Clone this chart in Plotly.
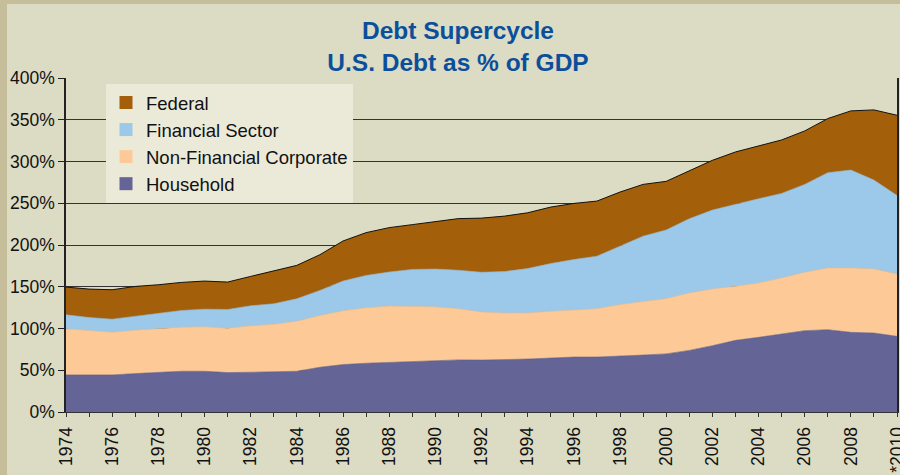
import plotly.graph_objects as go

years = list(range(1974, 2011))
household = [44.4, 44.4, 44.4, 46.0, 47.2, 48.8, 48.8, 47.2, 47.6, 48.0,
             48.8, 53.6, 56.8, 58.4, 59.6, 60.8, 61.6, 62.4, 62.2, 62.6,
             63.4, 64.6, 65.8, 65.8, 66.6, 68.2, 69.6, 73.8, 79.4, 85.8,
             89.4, 93.8, 97.4, 98.6, 95.4, 94.6, 90.6]
nonfin_corp = [55.2, 52.8, 51.2, 52.0, 52.8, 52.8, 53.2, 53.2, 55.6, 57.0,
               60.0, 62.0, 64.4, 66.4, 67.2, 66.0, 64.4, 61.4, 57.6, 56.0,
               55.2, 56.0, 56.4, 58.0, 62.0, 64.4, 66.2, 68.8, 68.0, 64.8,
               65.2, 66.8, 70.0, 74.0, 77.2, 76.8, 74.8]
financial = [16.8, 16.0, 15.6, 16.4, 17.6, 20.0, 21.2, 22.4, 24.0, 24.6,
             26.8, 30.0, 35.6, 38.8, 40.8, 44.0, 45.2, 46.0, 47.6, 49.6,
             53.2, 57.2, 60.4, 62.8, 70.0, 78.0, 82.2, 88.8, 94.4, 98.4,
             100.8, 101.2, 105.2, 114.0, 117.2, 106.4, 94.0]
federal = [33.2, 34.0, 35.2, 36.0, 34.8, 33.6, 33.6, 32.8, 35.2, 39.4,
           40.0, 42.8, 48.0, 51.2, 53.2, 53.6, 57.2, 61.8, 64.8, 66.4,
           66.8, 67.6, 67.2, 66.0, 64.8, 62.0, 58.2, 57.2, 59.6, 62.4,
           63.2, 64.0, 64.0, 64.8, 70.8, 84.0, 96.0]

series_names = ["Household", "Non-Financial Corporate", "Financial Sector", "Federal"]
series_values = [household, nonfin_corp, financial, federal]
series_colors = ["#646496", "#fdca97", "#9cc8ea", "#a45f0b"]
edge_colors = ["#5a5a88", "#e8b888", "#8ab4d6", "#111111"]

x_tick_vals = list(range(1974, 2011, 2))
x_tick_text = [str(y) for y in range(1974, 2010, 2)] + ["*2010"]
y_tick_vals = [0, 50, 100, 150, 200, 250, 300, 350, 400]
y_tick_text = ["0%", "50%", "100%", "150%", "200%", "250%", "300%", "350%", "400%"]

BG = "#dcdbc3"
BORDER = "#c6bd9b"
SANS = "Liberation Sans, Arial, sans-serif"

fig = go.Figure()
for name, vals, col, edge in zip(series_names, series_values, series_colors, edge_colors):
    fig.add_trace(go.Scatter(
        x=years, y=vals, name=name, stackgroup="one", mode="lines",
        fillcolor=col, line=dict(color=edge, width=1 if name == "Federal" else 0.6),
        showlegend=False, hoverinfo="x+y+name"))

# legend entries (square swatches)
for name, col in zip(series_names[::-1], series_colors[::-1]):
    fig.add_trace(go.Scatter(
        x=[None], y=[None], name=name, mode="markers",
        marker=dict(symbol="square", size=13, color=col), showlegend=True))

L, R, T, B = 66, 3, 78, 63
W, H = 900, 475
pw, ph = W - L - R, H - T - B

def px_x(X):
    return (X - L) / pw

def px_y(Y):
    return 1 - (Y - T) / ph

fig.add_shape(type="rect", xref="paper", yref="paper", layer="below",
              x0=px_x(0), x1=px_x(7), y0=px_y(H), y1=px_y(0),
              fillcolor=BORDER, line=dict(width=0))
fig.add_shape(type="rect", xref="paper", yref="paper", layer="below",
              x0=px_x(0), x1=px_x(W), y0=px_y(4), y1=px_y(0),
              fillcolor=BORDER, line=dict(width=0))

fig.update_layout(
    width=W, height=H,
    margin=dict(l=L, r=R, t=T, b=B, autoexpand=False),
    paper_bgcolor=BG, plot_bgcolor=BG,
    title=dict(text="Debt Supercycle<br>U.S. Debt as % of GDP",
               x=458 / W, xanchor="center", y=1 - 39 / H, yanchor="top",
               font=dict(family=SANS, size=24.5, color="#0b4f9c", weight="bold")),
    legend=dict(x=px_x(106), y=px_y(84), xanchor="left", yanchor="top",
                bgcolor="#ebead9", borderwidth=0, traceorder="normal",
                font=dict(family=SANS, size=18.5, color="#111111"),
                itemclick=False),
    xaxis=dict(range=[1974, 2010], tickvals=x_tick_vals, ticktext=x_tick_text,
               tickangle=-90, ticks="outside", ticklen=4, tickcolor="#333333",
               minor=dict(dtick=1, tick0=1974, ticks="outside", ticklen=4, tickcolor="#333333",
                          showgrid=False),
               showgrid=False, showline=True, linecolor="#333333", linewidth=1.2,
               tickfont=dict(family=SANS, size=17.5, color="#111111"),
               ticklabelstandoff=3, ticklabeloverflow="allow",
               automargin=False, zeroline=False),
    yaxis=dict(range=[0, 400], tickvals=y_tick_vals, ticktext=y_tick_text,
               ticks="outside", ticklen=6, tickcolor="#222222",
               showgrid=True, gridcolor="#333333", gridwidth=1.2,
               showline=True, linecolor="#222222", linewidth=1.5, mirror=True,
               tickfont=dict(family=SANS, size=17.5, color="#111111"),
               automargin=False, zeroline=False),
)

fig.write_html("out.html", config={"displayModeBar": False},
               post_script="document.body.style.margin='0';document.body.style.overflow='hidden';")
